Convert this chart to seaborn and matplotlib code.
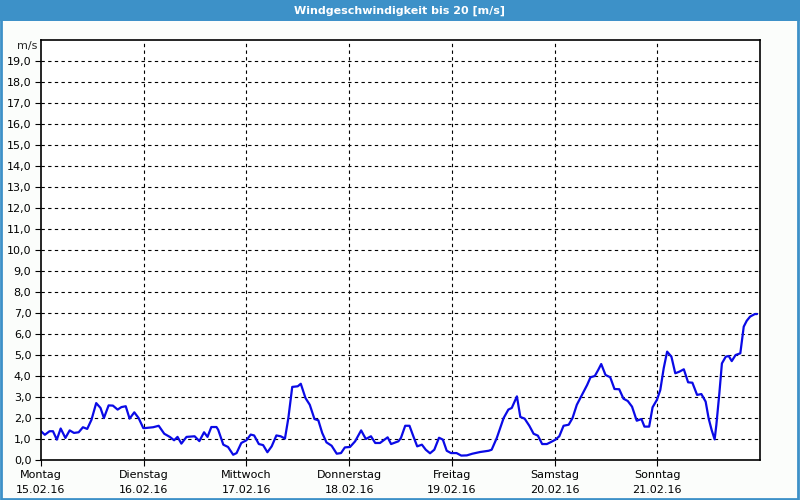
import matplotlib
matplotlib.use("Agg")
import matplotlib.pyplot as plt
from matplotlib.patches import Rectangle
import seaborn as sns
import pandas as pd

# ---- data ----
title = "Windgeschwindigkeit bis 20 [m/s]"
day_names = ["Montag", "Dienstag", "Mittwoch", "Donnerstag", "Freitag", "Samstag", "Sonntag"]
day_dates = ["15.02.16", "16.02.16", "17.02.16", "18.02.16", "19.02.16", "20.02.16", "21.02.16"]
y_ticks = list(range(0, 20))

hours = [0, 0.9, 2, 2.8, 3.7, 4.6, 5.7, 6.7, 7.7, 8.8, 9.8, 10.8, 11.8, 12.9, 13.9, 14.7,
         15.8, 16.8, 17.9, 18.8, 19.8, 20.7, 21.8, 22.8, 23.9, 24.3, 26.2, 27.5, 28.8, 30.1,
         31.1, 31.9, 32.8, 34, 35.9, 37, 38.1, 38.9, 39.8, 41, 41.4, 42.6, 43.7, 44.9, 45.7,
         46.8, 48.0, 49, 49.8, 50.9, 51.9, 52.9, 53.9, 55, 56, 57, 57.8, 58.7, 60, 60.7,
         61.8, 62.8, 63.9, 64.8, 65.7, 66.7, 67.9, 69.1, 70.1, 71, 72.2, 73.4, 74.8, 75.9,
         77.1, 78.1, 79.2, 81, 81.8, 83.5, 84.1, 85.1, 86.1, 87, 87.9, 89, 89.9, 90.9, 91.9,
         93, 93.9, 94.8, 95.8, 97.1, 98.2, 99.5, 100.8, 102.6, 104.6, 105.3, 106.5, 108.1,
         109.2, 110, 111.2, 112, 113, 114.1, 115.1, 116.1, 117.1, 118.2, 119.2, 120.2, 121.1,
         122.1, 123.3, 124.2, 125.2, 126.8, 127.6, 128.4, 129.4, 130.2, 130.9, 131.9, 133,
         134, 135.1, 136.1, 137.1, 138.1, 139.2, 140.3, 141, 142.1, 142.9, 143.9, 144.7,
         145.5, 146.3, 147.3, 148.2, 149.2, 150.2, 151.2, 152.2, 153.3, 154.3, 155.3, 156,
         156.7, 157.4, 157.8, 158.5, 159.1, 160, 160.7, 161.4, 162.3, 163.4, 164.2, 164.9,
         165.7, 166.8, 167.3]
speed = [1.37, 1.2, 1.37, 1.37, 0.97, 1.5, 1.05, 1.41, 1.29, 1.32, 1.56, 1.48, 1.92, 2.71,
         2.48, 2.0, 2.6, 2.59, 2.4, 2.52, 2.56, 1.97, 2.27, 2.0, 1.52, 1.52, 1.56, 1.63, 1.25,
         1.1, 0.94, 1.1, 0.78, 1.1, 1.13, 0.9, 1.32, 1.1, 1.57, 1.57, 1.44, 0.73, 0.62, 0.25,
         0.33, 0.81, 0.94, 1.21, 1.17, 0.76, 0.71, 0.37, 0.65, 1.17, 1.13, 1.02, 2.0, 3.48,
         3.51, 3.63, 2.95, 2.63, 1.95, 1.89, 1.29, 0.84, 0.68, 0.3, 0.33, 0.6, 0.62, 0.89,
         1.41, 1.0, 1.13, 0.81, 0.81, 1.08, 0.76, 0.89, 1.05, 1.63, 1.63, 1.13, 0.65, 0.73,
         0.49, 0.32, 0.49, 1.06, 0.97, 0.44, 0.33, 0.33, 0.21, 0.22, 0.3, 0.38, 0.44, 0.49,
         1.05, 2.0, 2.4, 2.48, 3.03, 2.05, 1.97, 1.63, 1.25, 1.16, 0.76, 0.76, 0.86, 0.97,
         1.13, 1.63, 1.68, 2.0, 2.63, 3.25, 3.57, 3.94, 4.0, 4.29, 4.57, 4.05, 3.94, 3.38,
         3.37, 2.92, 2.81, 2.54, 1.87, 1.95, 1.59, 1.59, 2.51, 2.86, 3.33, 4.37, 5.16, 4.92,
         4.13, 4.21, 4.32, 3.7, 3.68, 3.1, 3.14, 2.78, 1.98, 1.43, 0.98, 1.67, 3.17, 4.6,
         4.92, 4.95, 4.71, 5.0, 5.08, 6.35, 6.63, 6.83, 6.95, 6.95]

df = pd.DataFrame({"day": [h / 24 for h in hours], "speed": speed})

# ---- figure ----
sns.set_theme(style="white")
plt.rcParams["font.family"] = ["DejaVu Sans"]

W, H = 800, 500
fig = plt.figure(figsize=(8, 5), dpi=100, facecolor="#fbfdfb")
ax = fig.add_axes([41 / W, 1 - 460 / H, (760 - 41) / W, (460 - 40) / H])
ax.set_facecolor("white")

sns.lineplot(data=df, x="day", y="speed", ax=ax, color="#0a0ae6", linewidth=1.6)

ax.set_xlim(0, 7)
ax.set_ylim(0, 20)
ax.set_yticks(y_ticks)
ax.set_yticklabels([f"{v},0" for v in y_ticks], fontsize=8, color="black")
ax.set_xticks(range(len(day_names)))
ax.set_xticklabels([f"{n}\n{d}" for n, d in zip(day_names, day_dates)],
                   fontsize=8, color="black", linespacing=1.6)
ax.set_xlabel("")
ax.set_ylabel("")
ax.tick_params(axis="both", direction="out", length=4, width=0.8, color="black",
               pad=3, left=True, bottom=True)

for v in range(1, 20):
    ax.axhline(v, color="black", linestyle=(0, (3, 3)), linewidth=0.8, zorder=0.5)
for d in range(1, 7):
    ax.axvline(d, color="black", linestyle=(0, (3, 3)), linewidth=0.8, zorder=0.5)

for s in ax.spines.values():
    s.set_color("black")
    s.set_linewidth(1.2)

ax.text(-0.04, 19.7, "m/s", ha="right", va="center", fontsize=8,
        transform=ax.transData, clip_on=False)

# title bar and window border
fig.patches.append(Rectangle((0, 1 - 21 / H), 1, 21 / H, transform=fig.transFigure,
                             facecolor="#3d91c8", edgecolor="none", zorder=0))
fig.patches.append(Rectangle((0.001, 0.002), 0.997, 0.996, transform=fig.transFigure,
                             facecolor="none", edgecolor="#3d91c8", linewidth=2, zorder=1))
fig.text(0.5, 1 - 10.5 / H, title, ha="center", va="center", color="white",
         fontsize=8, fontweight="bold")

fig.savefig("out.png", dpi=100, facecolor=fig.get_facecolor())
